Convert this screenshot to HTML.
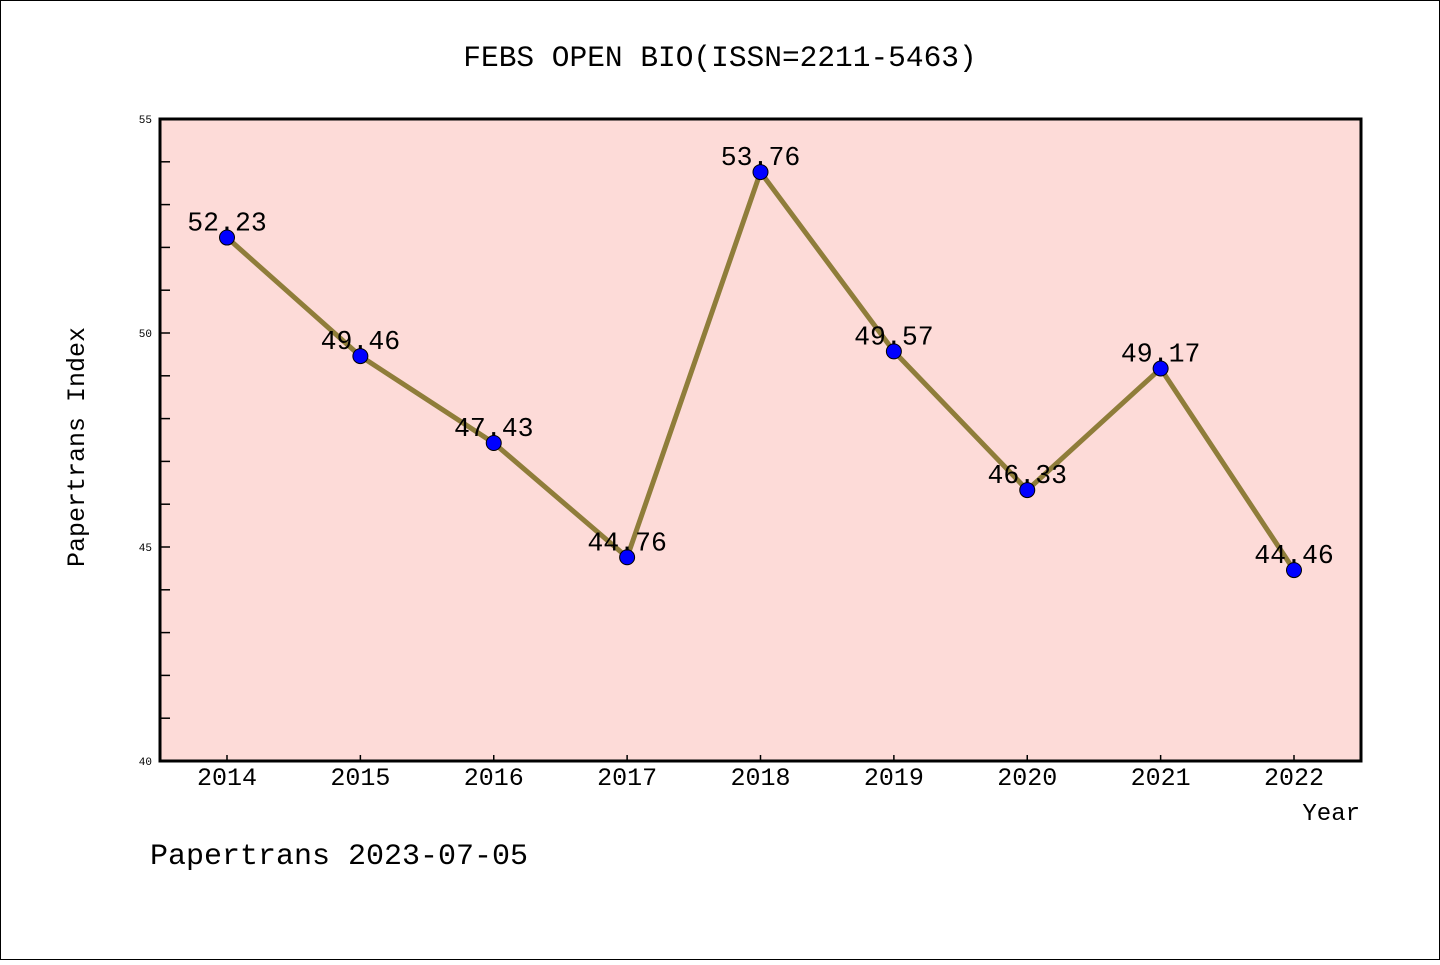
<!DOCTYPE html>
<html><head><meta charset="utf-8"><style>
body{margin:0;background:#fff}
svg text{font-family:"Liberation Mono","WenQuanYi Zen Hei Mono",monospace}
</style></head><body>
<svg width="1440" height="960">
<rect x="0.5" y="0.5" width="1439" height="959" fill="#fff" stroke="#000"/>
<text x="720" y="66" text-anchor="middle" font-size="29.5">FEBS OPEN BIO(ISSN=2211-5463)</text>
<rect x="160" y="119" width="1201" height="642" fill="#fddbd8"/>
<g id="ticks"></g>
<polyline id="line" fill="none" stroke="#8f7d3a" stroke-width="5"/>
<g id="pts"></g>
<rect x="160" y="119" width="1201" height="642" fill="none" stroke="#000" stroke-width="3"/>
<text x="84" y="447" text-anchor="middle" font-size="25" transform="rotate(-90 84 447)">Papertrans Index</text>
<text x="1360" y="820" text-anchor="end" font-size="24">Year</text>
<text x="150" y="864" font-size="30">Papertrans 2023-07-05</text>
</svg>
<script>
const years=["2014","2015","2016","2017","2018","2019","2020","2021","2022"];
const values=[52.23,49.46,47.43,44.76,53.76,49.57,46.33,49.17,44.46];
const yTicks=[40,45,50,55];
const NS="http://www.w3.org/2000/svg";
const X=i=>227+i*(1294-227)/8;
const Y=v=>761-(v-40)*(642/15);
function mk(t,a,p){const e=document.createElementNS(NS,t);for(const k in a)e.setAttribute(k,a[k]);p.appendChild(e);return e;}
const tg=document.getElementById('ticks');
for(let v=41;v<55;v++){const l=mk('line',{x1:160,x2:170,y1:Y(v),y2:Y(v),stroke:'#000','stroke-width':1.5},tg);

}
yTicks.forEach(v=>{const t=mk('text',{x:152,y:Y(v)+4,'text-anchor':'end','font-size':11},tg);t.textContent=v;

});
years.forEach((y,i)=>{const l=mk('line',{x1:X(i),x2:X(i),y1:761,y2:755,stroke:'#000','stroke-width':1.5},tg);


const t=mk('text',{x:X(i),y:785,'text-anchor':'middle','font-size':25},tg);t.textContent=y;

});
document.getElementById('line').setAttribute('points',values.map((v,i)=>X(i)+','+Y(v)).join(' '));
const pg=document.getElementById('pts');
values.forEach((v,i)=>{const c=mk('circle',{cx:X(i),cy:Y(v),r:7.5,fill:'#0000ff',stroke:'#000','stroke-width':1},pg);


const t=mk('text',{x:X(i),y:Y(v)-7,'text-anchor':'middle','font-size':26.5},pg);t.textContent=v.toFixed(2);

});
</script>
</body></html>
